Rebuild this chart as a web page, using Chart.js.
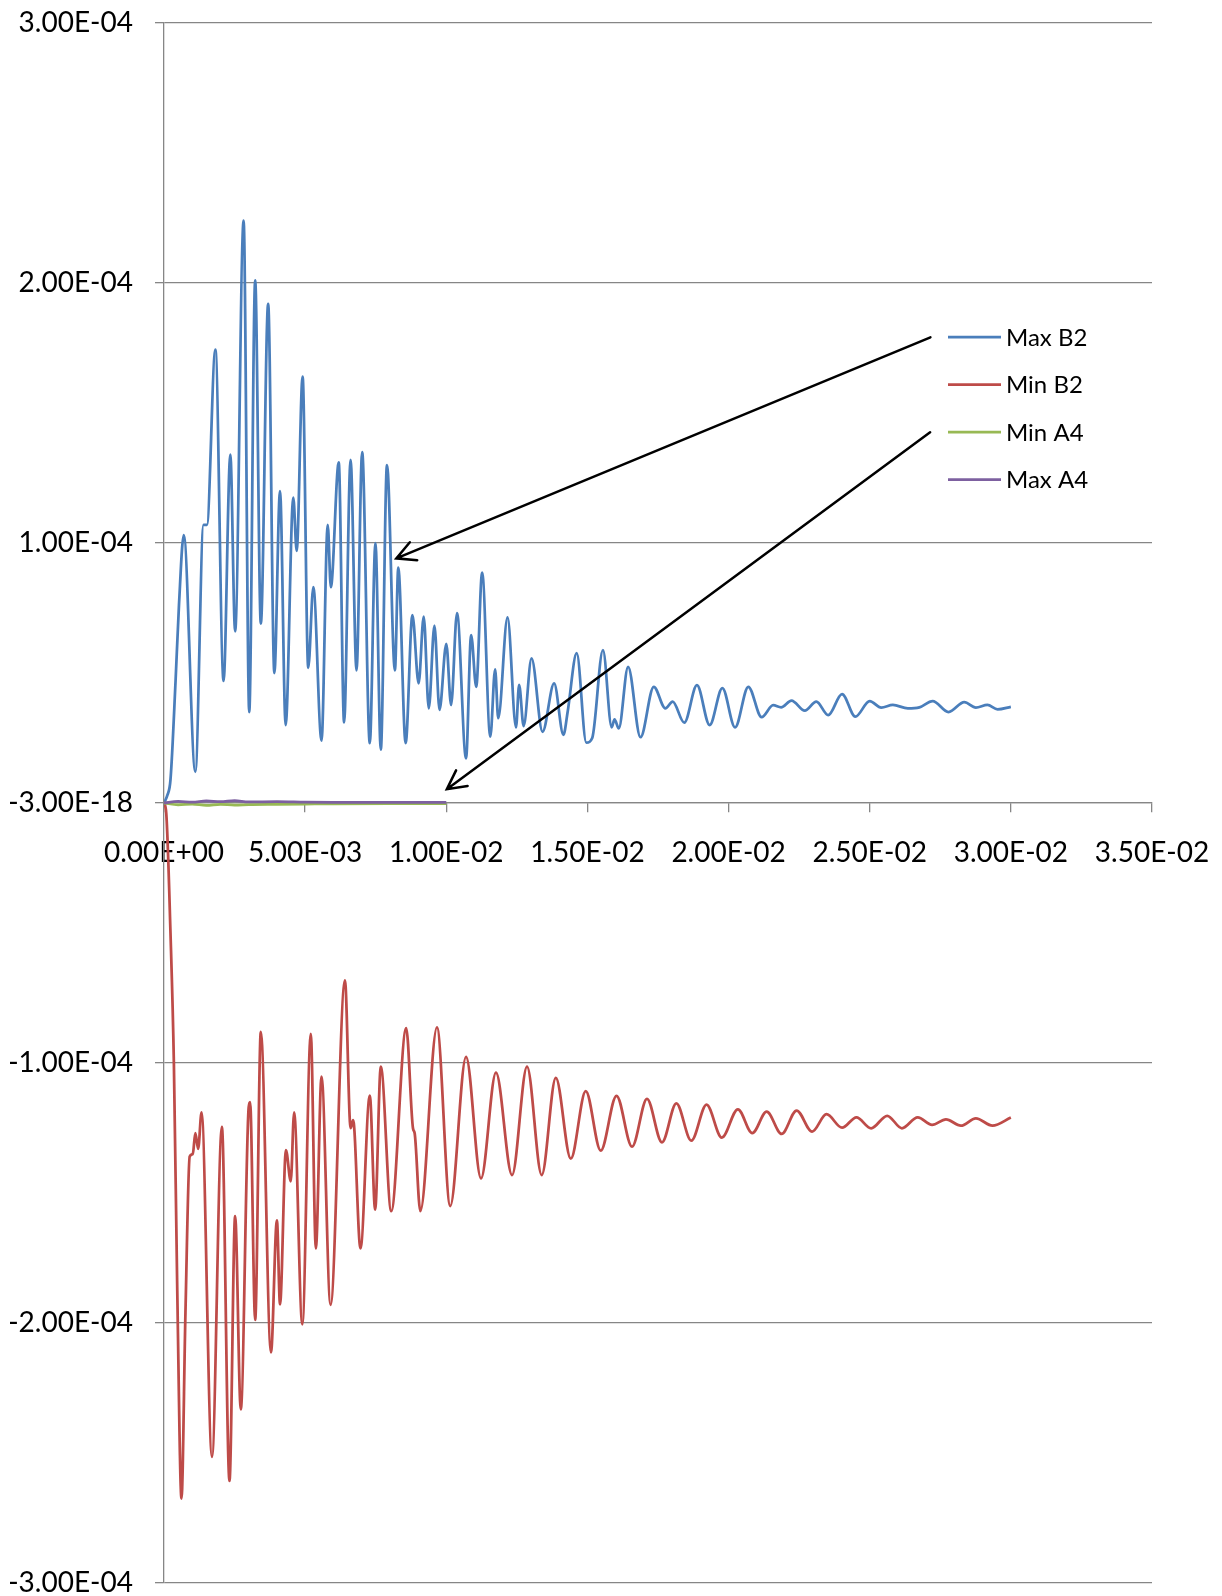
<!DOCTYPE html>
<html>
<head>
<meta charset="utf-8">
<title>Max / Min B2, A4</title>
<script src="https://cdn.jsdelivr.net/npm/chart.js@4.4.1/dist/chart.umd.min.js"></script>
<style>
    html, body { margin: 0; padding: 0; background: #fff; overflow: hidden; }
    #chart { display: block; }
</style>
</head>
<body>
<canvas id="chart" width="1222" height="1610"></canvas>
<script>
    // Series data (x in s, y in reference units)
    const maxB2X = [0, 0.12e-3, 0.23e-3, 0.41e-3, 0.53e-3, 0.70e-3, 1.11e-3, 1.40e-3, 1.52e-3, 1.82e-3,
        2.11e-3, 2.35e-3, 2.52e-3, 2.82e-3, 3.02e-3, 3.23e-3, 3.43e-3, 3.69e-3, 3.91e-3, 4.11e-3,
        4.31e-3, 4.58e-3, 4.70e-3, 4.91e-3, 5.11e-3, 5.29e-3, 5.58e-3, 5.80e-3, 5.91e-3, 6.19e-3,
        6.38e-3, 6.61e-3, 6.82e-3, 7.02e-3, 7.29e-3, 7.49e-3, 7.68e-3, 7.90e-3, 8.18e-3, 8.30e-3,
        8.56e-3, 8.80e-3, 9.02e-3, 9.20e-3, 9.38e-3, 9.58e-3, 9.76e-3, 10.00e-3, 10.17e-3, 10.38e-3,
        10.70e-3, 10.88e-3, 11.06e-3, 11.27e-3, 11.56e-3, 11.73e-3, 11.84e-3, 12.17e-3, 12.47e-3, 12.58e-3,
        12.74e-3, 13.02e-3, 13.41e-3, 13.82e-3, 14.15e-3, 14.30e-3, 14.62e-3, 14.96e-3, 15.17e-3, 15.55e-3,
        15.86e-3, 15.96e-3, 16.11e-3, 16.44e-3, 16.88e-3, 17.35e-3, 17.76e-3, 18.02e-3, 18.43e-3, 18.88e-3,
        19.33e-3, 19.78e-3, 20.23e-3, 20.70e-3, 21.17e-3, 21.58e-3, 21.86e-3, 22.23e-3, 22.70e-3, 23.11e-3,
        23.53e-3, 24.02e-3, 24.49e-3, 25.00e-3, 25.41e-3, 25.82e-3, 26.35e-3, 26.76e-3, 27.23e-3, 27.79e-3,
        28.35e-3, 28.76e-3, 29.17e-3, 29.53e-3, 30.00e-3];
    const maxB2Y = [0, 0.03e-4, 0.09e-4, 0.47e-4, 0.76e-4, 1.03e-4, 0.12e-4, 1.07e-4, 1.07e-4, 1.744e-4,
        0.47e-4, 1.34e-4, 0.66e-4, 2.24e-4, 0.35e-4, 2.01e-4, 0.69e-4, 1.92e-4, 0.50e-4, 1.20e-4,
        0.30e-4, 1.175e-4, 0.97e-4, 1.64e-4, 0.52e-4, 0.83e-4, 0.24e-4, 1.07e-4, 0.83e-4, 1.31e-4,
        0.31e-4, 1.32e-4, 0.51e-4, 1.35e-4, 0.23e-4, 1.00e-4, 0.205e-4, 1.30e-4, 0.51e-4, 0.905e-4,
        0.23e-4, 0.723e-4, 0.46e-4, 0.717e-4, 0.364e-4, 0.682e-4, 0.358e-4, 0.612e-4, 0.377e-4, 0.73e-4,
        0.172e-4, 0.646e-4, 0.447e-4, 0.886e-4, 0.255e-4, 0.514e-4, 0.326e-4, 0.714e-4, 0.291e-4, 0.454e-4,
        0.296e-4, 0.556e-4, 0.274e-4, 0.46e-4, 0.262e-4, 0.351e-4, 0.576e-4, 0.232e-4, 0.25e-4, 0.588e-4,
        0.291e-4, 0.322e-4, 0.287e-4, 0.524e-4, 0.253e-4, 0.447e-4, 0.364e-4, 0.39e-4, 0.309e-4, 0.453e-4,
        0.30e-4, 0.442e-4, 0.291e-4, 0.447e-4, 0.33e-4, 0.376e-4, 0.368e-4, 0.394e-4, 0.355e-4, 0.39e-4,
        0.338e-4, 0.419e-4, 0.332e-4, 0.392e-4, 0.367e-4, 0.377e-4, 0.364e-4, 0.368e-4, 0.392e-4, 0.35e-4,
        0.388e-4, 0.367e-4, 0.377e-4, 0.36e-4, 0.37e-4];

    const minB2X = [0, 0.08e-3, 0.23e-3, 0.35e-3, 0.47e-3, 0.62e-3, 0.76e-3, 0.91e-3, 1.02e-3, 1.11e-3,
        1.21e-3, 1.33e-3, 1.70e-3, 2.05e-3, 2.32e-3, 2.52e-3, 2.72e-3, 3.00e-3, 3.05e-3, 3.23e-3,
        3.43e-3, 3.79e-3, 4.00e-3, 4.11e-3, 4.32e-3, 4.49e-3, 4.61e-3, 4.90e-3, 5.20e-3, 5.38e-3,
        5.58e-3, 5.90e-3, 6.41e-3, 6.61e-3, 6.70e-3, 6.96e-3, 7.29e-3, 7.48e-3, 7.68e-3, 8.05e-3,
        8.58e-3, 8.82e-3, 8.88e-3, 9.08e-3, 9.67e-3, 10.14e-3, 10.70e-3, 11.23e-3, 11.76e-3, 12.33e-3,
        12.86e-3, 13.38e-3, 13.88e-3, 14.41e-3, 14.94e-3, 15.47e-3, 16.03e-3, 16.58e-3, 17.11e-3, 17.64e-3,
        18.15e-3, 18.68e-3, 19.22e-3, 19.76e-3, 20.33e-3, 20.84e-3, 21.35e-3, 21.88e-3, 22.41e-3, 22.96e-3,
        23.47e-3, 24.02e-3, 24.53e-3, 25.05e-3, 25.62e-3, 26.14e-3, 26.70e-3, 27.21e-3, 27.70e-3, 28.23e-3,
        28.76e-3, 29.35e-3, 30.00e-3];
    const minB2Y = [0, -0.04e-4, -0.50e-4, -1.0e-4, -1.876e-4, -2.675e-4, -1.96e-4, -1.36e-4, -1.35e-4, -1.27e-4,
        -1.33e-4, -1.19e-4, -2.515e-4, -1.246e-4, -2.607e-4, -1.589e-4, -2.332e-4, -1.17e-4, -1.15e-4, -1.988e-4,
        -0.88e-4, -2.113e-4, -1.605e-4, -1.928e-4, -1.335e-4, -1.455e-4, -1.19e-4, -2.005e-4, -0.888e-4, -1.713e-4,
        -1.052e-4, -1.93e-4, -0.682e-4, -1.25e-4, -1.22e-4, -1.713e-4, -1.125e-4, -1.564e-4, -1.014e-4, -1.57e-4,
        -0.866e-4, -1.251e-4, -1.27e-4, -1.57e-4, -0.863e-4, -1.55e-4, -0.976e-4, -1.444e-4, -1.037e-4, -1.431e-4,
        -1.014e-4, -1.431e-4, -1.057e-4, -1.368e-4, -1.108e-4, -1.337e-4, -1.126e-4, -1.322e-4, -1.138e-4, -1.305e-4,
        -1.155e-4, -1.299e-4, -1.16e-4, -1.287e-4, -1.178e-4, -1.27e-4, -1.187e-4, -1.273e-4, -1.183e-4, -1.264e-4,
        -1.197e-4, -1.249e-4, -1.209e-4, -1.251e-4, -1.203e-4, -1.251e-4, -1.209e-4, -1.238e-4, -1.217e-4, -1.241e-4,
        -1.213e-4, -1.241e-4, -1.21e-4];

    // A4 series stay on the zero line (tiny wiggles only)
    const a4X = [0, 0.5e-3, 1.0e-3, 1.5e-3, 2.0e-3, 2.5e-3, 3.0e-3, 4.0e-3, 5.0e-3, 6.0e-3, 8.0e-3, 10.0e-3];
    const minA4Y = [0, -0.7e-6, -0.4e-6, -0.9e-6, -0.5e-6, -0.8e-6, -0.6e-6, -0.5e-6, -0.4e-6, -0.3e-6, -0.2e-6, -0.2e-6];
    const maxA4Y = [0, 0.6e-6, 0.3e-6, 0.8e-6, 0.5e-6, 0.9e-6, 0.4e-6, 0.5e-6, 0.3e-6, 0.2e-6, 0.2e-6, 0.2e-6];

    const seriesNames = ['Max B2', 'Min B2', 'Min A4', 'Max A4'];
    const seriesColors = ['#4A7EBB', '#BE4B48', '#98B954', '#7D60A0'];

    // Axis ticks
    const xMin = 0, xMax = 0.035, xStep = 0.005;
    const yMin = -3e-4, yMax = 3e-4, yStep = 1e-4;
    const yZeroLabel = '-3.00E-18'; // what the original prints at zero

    // Annotation arrows (data coordinates): legend -> curves
    const arrowFromX = [0.02715, 0.02714];
    const arrowFromY = [1.791e-4, 1.426e-4];
    const arrowToX = [8.23e-3, 10.02e-3];
    const arrowToY = [0.941e-4, 0.053e-4];

    const FONT = 'Lato, "Open Sans", sans-serif';
    const GRID = '#868686';

    // Excel style scientific label: 1.00E-04
    function sciLabel(v) {
        const parts = Number(v).toExponential(2).split('e');
        const exp = parseInt(parts[1], 10);
        return parts[0] + 'E' + (exp < 0 ? '-' : '+') + String(Math.abs(exp)).padStart(2, '0');
    }

    function toPoints(xs, ys) {
        return xs.map((x, i) => ({ x: x, y: ys[i] }));
    }

    // Legend drawn by hand at the right of the plot
    const legendPlugin = {
        id: 'sideLegend',
        afterDraw(chart) {
            const ctx = chart.ctx;
            ctx.save();
            ctx.font = '24px ' + FONT;
            ctx.textBaseline = 'middle';
            ctx.fillStyle = '#000';
            chart.data.datasets.forEach((ds, i) => {
                const y = 337 + i * 47.5;
                ctx.strokeStyle = ds.borderColor;
                ctx.lineWidth = 2.75;
                ctx.beginPath();
                ctx.moveTo(948, y);
                ctx.lineTo(1001, y);
                ctx.stroke();
                ctx.fillText(ds.label, 1006, y + 1);
            });
            ctx.restore();
        }
    };

    // Black arrows with open heads
    const arrowPlugin = {
        id: 'arrows',
        afterDatasetsDraw(chart) {
            const ctx = chart.ctx;
            const xs = chart.scales.x, ys = chart.scales.y;
            ctx.save();
            ctx.strokeStyle = '#000';
            ctx.lineWidth = 2.5;
            ctx.lineCap = 'round';
            for (let i = 0; i < arrowFromX.length; i++) {
                const x1 = xs.getPixelForValue(arrowFromX[i]), y1 = ys.getPixelForValue(arrowFromY[i]);
                const x2 = xs.getPixelForValue(arrowToX[i]), y2 = ys.getPixelForValue(arrowToY[i]);
                const ang = Math.atan2(y1 - y2, x1 - x2);
                ctx.beginPath();
                ctx.moveTo(x1, y1);
                ctx.lineTo(x2, y2);
                ctx.moveTo(x2 + 21 * Math.cos(ang - 0.48), y2 + 21 * Math.sin(ang - 0.48));
                ctx.lineTo(x2, y2);
                ctx.lineTo(x2 + 21 * Math.cos(ang + 0.48), y2 + 21 * Math.sin(ang + 0.48));
                ctx.stroke();
            }
            ctx.restore();
        }
    };

    const ctx = document.getElementById('chart').getContext('2d');
    const chart = new Chart(ctx, {
        type: 'scatter',
        data: {
            datasets: [
                { label: seriesNames[0], data: toPoints(maxB2X, maxB2Y), borderColor: seriesColors[0], order: 4 },
                { label: seriesNames[1], data: toPoints(minB2X, minB2Y), borderColor: seriesColors[1], order: 3 },
                { label: seriesNames[2], data: toPoints(a4X, minA4Y), borderColor: seriesColors[2], order: 2 },
                { label: seriesNames[3], data: toPoints(a4X, maxA4Y), borderColor: seriesColors[3], order: 1 }
            ]
        },
        options: {
            responsive: false,
            animation: false,
            devicePixelRatio: 1,
            layout: { padding: { top: 23, right: 70, bottom: 27, left: 0 } },
            datasets: {
                scatter: {
                    showLine: true,
                    pointRadius: 0,
                    pointHoverRadius: 0,
                    borderWidth: 2.75,
                    cubicInterpolationMode: 'monotone',
                    backgroundColor: 'transparent'
                }
            },
            plugins: {
                legend: { display: false },
                tooltip: { enabled: false }
            },
            scales: {
                x: {
                    type: 'linear',
                    position: { y: 0 },
                    min: xMin,
                    max: xMax,
                    ticks: {
                        stepSize: xStep,
                        callback: v => sciLabel(v),
                        font: { family: FONT, size: 28 },
                        color: '#000',
                        padding: 24,
                        maxRotation: 0,
                        autoSkip: false
                    },
                    grid: { drawOnChartArea: false, drawTicks: true, tickLength: 9, color: GRID, lineWidth: 1.3 },
                    border: { display: true, color: GRID, width: 1.3 },
                    afterFit: scale => { scale.paddingLeft = 0; scale.paddingRight = 0; }
                },
                y: {
                    type: 'linear',
                    position: 'left',
                    min: yMin,
                    max: yMax,
                    ticks: {
                        stepSize: yStep,
                        callback: v => (Math.abs(v) < 1e-12 ? yZeroLabel : sciLabel(v)),
                        font: { family: FONT, size: 28 },
                        color: '#000',
                        padding: 22
                    },
                    grid: { color: GRID, lineWidth: 1.3, tickLength: 9, drawTicks: true },
                    border: { display: true, color: GRID, width: 1.3 },
                    afterFit: scale => { scale.width = 164; scale.paddingTop = 0; scale.paddingBottom = 0; }
                }
            }
        },
        plugins: [arrowPlugin, legendPlugin]
    });
</script>
</body>
</html>
